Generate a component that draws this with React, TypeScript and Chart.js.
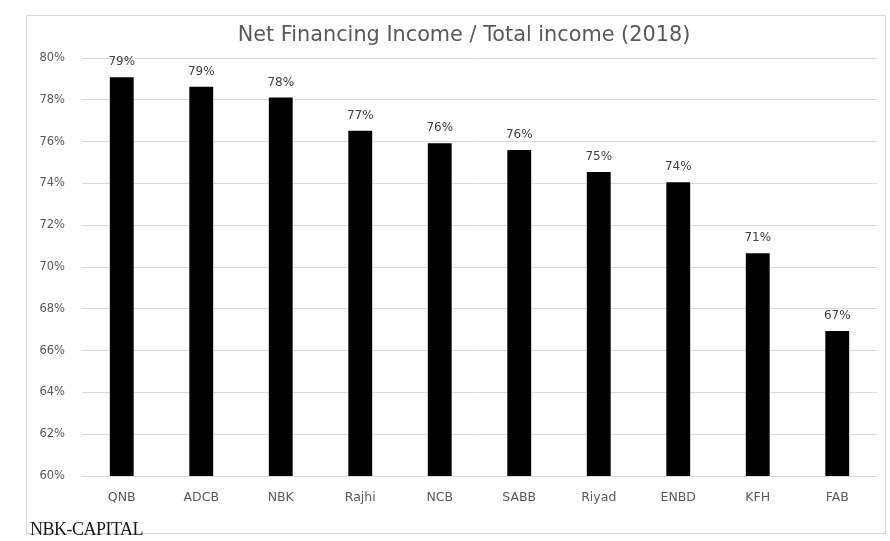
import React, { useEffect, useRef } from "react";
import { Chart, registerables } from "chart.js";

Chart.register(...registerables);

const categories = ["QNB", "ADCB", "NBK", "Rajhi", "NCB", "SABB", "Riyad", "ENBD", "KFH", "FAB"];
const ratioValues = [79.08, 78.62, 78.11, 76.52, 75.92, 75.6, 74.55, 74.05, 70.66, 66.94];
const yMin = 60;
const yMax = 80;
const yStep = 2;
const titleText = "Net Financing Income / Total income (2018)";
const sourceText = "NBK-CAPITAL";

const valueLabelPlugin = {
  id: "valueLabels",
  afterDatasetsDraw(chart: any) {
    const ctx = chart.ctx;
    const meta = chart.getDatasetMeta(0);
    const data = chart.data.datasets[0].data as number[];
    ctx.save();
    ctx.font = "12px 'DejaVu Sans'";
    ctx.fillStyle = "#404040";
    ctx.textAlign = "center";
    ctx.textBaseline = "alphabetic";
    meta.data.forEach((bar: any, i: number) => {
      ctx.fillText(Math.round(data[i]) + "%", bar.x, bar.y - 12);
    });
    ctx.restore();
  },
};

const titlePlugin = {
  id: "fixedTitle",
  afterDraw(chart: any) {
    const ctx = chart.ctx;
    ctx.save();
    ctx.font = "20.8px 'DejaVu Sans'";
    ctx.fillStyle = "#595959";
    ctx.textAlign = "center";
    ctx.textBaseline = "middle";
    ctx.fillText(titleText, 464, 36);
    ctx.restore();
  },
};

export default function App() {
  const canvasRef = useRef<HTMLCanvasElement | null>(null);

  useEffect(() => {
    document.body.style.margin = "0";
    const canvas = canvasRef.current;
    if (!canvas) return;
    const chart = new Chart(canvas, {
      type: "bar",
      data: {
        labels: categories,
        datasets: [
          {
            data: ratioValues,
            backgroundColor: "#000000",
            borderWidth: 0,
            barPercentage: 0.3,
            categoryPercentage: 1.0,
          },
        ],
      },
      options: {
        animation: false,
        responsive: false,
        maintainAspectRatio: false,
        layout: { padding: { left: 26, right: 13, top: 58, bottom: 0 } },
        plugins: {
          legend: { display: false },
          tooltip: { enabled: false },
          title: { display: false },
        },
        scales: {
          x: {
            grid: { display: false, drawTicks: false },
            border: { display: false },
            ticks: {
              color: "#595959",
              font: { family: "'DejaVu Sans'", size: 12.5 },
              padding: 14,
              maxRotation: 0,
            },
            afterFit(scale: any) {
              scale.height = 65;
            },
          },
          y: {
            min: yMin,
            max: yMax,
            grid: { color: "#d9d9d9", lineWidth: 1, drawTicks: false },
            border: { display: false },
            ticks: {
              stepSize: yStep,
              color: "#595959",
              font: { family: "'DejaVu Sans'", size: 11.5 },
              padding: 17,
              callback: (v: any) => v + "%",
            },
            afterFit(scale: any) {
              scale.width = 56;
            },
          },
        },
      },
      plugins: [valueLabelPlugin, titlePlugin],
    });
    return () => chart.destroy();
  }, []);

  return (
    <div style={{ position: "relative", width: 890, height: 541, background: "#ffffff", overflow: "hidden" }}>
      <div
        style={{
          position: "absolute",
          left: 26,
          top: 15,
          width: 860,
          height: 519,
          border: "1px solid #d9d9d9",
          boxSizing: "border-box",
        }}
      />
      <canvas ref={canvasRef} width={890} height={541} style={{ position: "absolute", left: 0, top: 0 }} />
      <div
        style={{
          position: "absolute",
          left: 30,
          top: 519,
          fontFamily: "'Liberation Serif', serif",
          fontSize: 18,
          lineHeight: "20px",
          color: "#1a1a1a",
          letterSpacing: "-0.5px",
        }}
      >
        {sourceText}
      </div>
    </div>
  );
}
